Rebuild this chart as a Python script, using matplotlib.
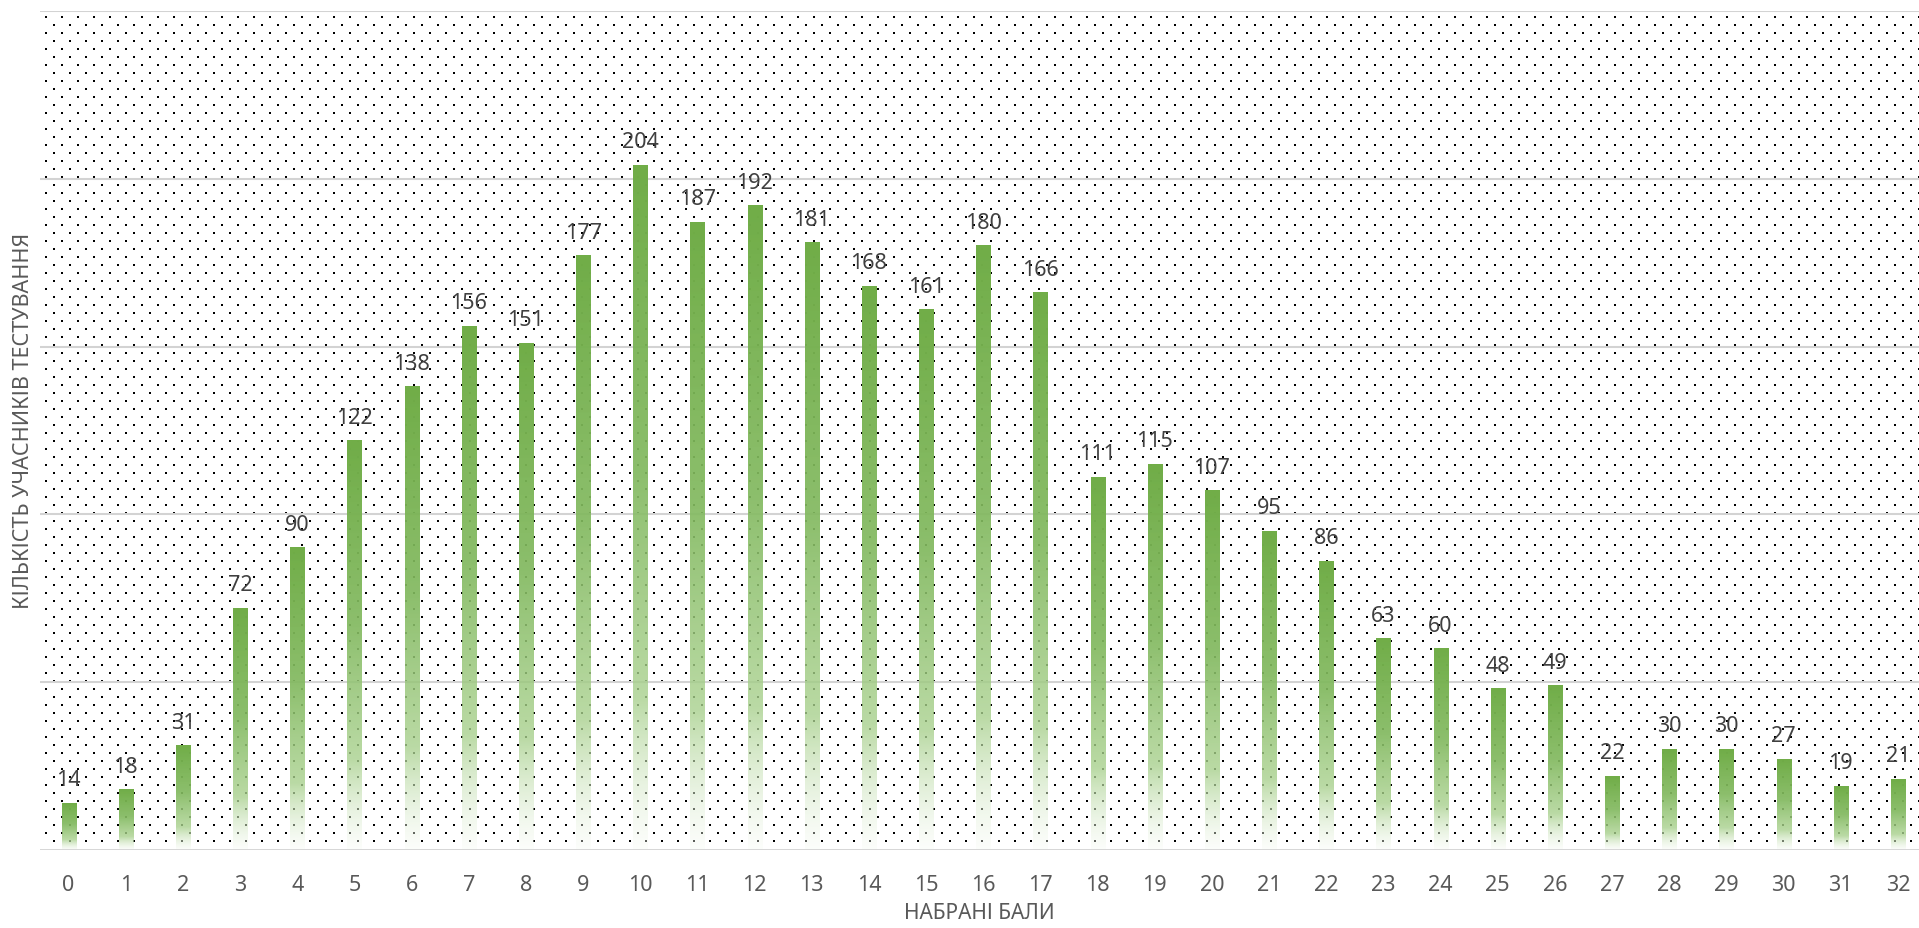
import numpy as np
import matplotlib
matplotlib.use("Agg")
import matplotlib.pyplot as plt
from matplotlib.colors import to_rgb

# scores 0..32 and number of participants
scores = list(range(33))
counts = [14, 18, 31, 72, 90, 122, 138, 156, 151, 177, 204, 187, 192, 181,
          168, 161, 180, 166, 111, 115, 107, 95, 86, 63, 60, 48, 49, 22,
          30, 30, 27, 19, 21]

x_label = "НАБРАНІ БАЛИ"
y_label = "КІЛЬКІСТЬ УЧАСНИКІВ ТЕСТУВАННЯ"

W, H, DPI = 1919, 929, 100
AX_L, AX_R, AX_T, AX_B = 40, 1919, 12, 851   # axes box in pixels

plt.rcParams['font.family'] = ['Noto Sans', 'DejaVu Sans']


def dot_pattern(w, h):
    # staggered black dots, 16 px apart in a row, rows 8 px apart
    img = np.zeros((h, w, 4))
    for r, y in enumerate(range(5, h - 4, 8)):
        off = 5 if r % 2 == 0 else 13
        for x in range(off, w, 16):
            img[y:y + 2, x:x + 2] = (0, 0, 0, 1)
    return img


def bar_gradient(n=256):
    # top of bar at row 0, bottom at row n-1
    t = np.linspace(0, 1, n)
    stops = np.array([0.0, 0.45, 0.78, 1.0])
    cols = np.array([to_rgb('#70ad47'), to_rgb('#82b95f'),
                     to_rgb('#a9d18e'), to_rgb('#f7fbf4')])
    alphas = np.array([1.0, 0.92, 0.8, 0.35])
    img = np.zeros((n, 1, 4))
    for k in range(3):
        img[:, 0, k] = np.interp(t, stops, cols[:, k])
    img[:, 0, 3] = np.interp(t, stops, alphas)
    return img


fig = plt.figure(figsize=(W / DPI, H / DPI), dpi=DPI)
ax = fig.add_axes([AX_L / W, 1 - AX_B / H, (AX_R - AX_L) / W, (AX_B - AX_T) / H])

# background dots
ax.imshow(dot_pattern(AX_R - AX_L, AX_B - AX_T), extent=(0, 1, 0, 1),
          transform=ax.transAxes, aspect='auto', interpolation='none', zorder=0)

for v in range(50, 251, 50):
    ax.axhline(v, color='#d3d3d3', lw=1.5, zorder=1)
ax.axhline(0, color='#d3d3d3', lw=2, zorder=4)

bw = 0.245
grad = bar_gradient()
for s, c in zip(scores, counts):
    ax.imshow(grad, extent=(s - bw / 2, s + bw / 2, 0, c), aspect='auto',
              interpolation='bilinear', zorder=3)
    ax.annotate(str(c), (s, c), xytext=(0, 13), textcoords='offset points',
                ha='center', va='baseline', fontsize=15.5, color='#404040',
                zorder=5, clip_on=False)

ax.set_xlim(-0.5, 32.37)
ax.set_ylim(0, 250)

for sp in ax.spines.values():
    sp.set_visible(False)
ax.set_xticks(scores)
ax.set_xticklabels([str(s) for s in scores])
ax.set_yticks([])
ax.tick_params(axis='x', length=0, pad=17, labelsize=15.5, labelcolor='#595959')

ax.set_xlabel(x_label, fontsize=15, color='#595959', labelpad=5)
ax.set_ylabel(y_label, fontsize=15.5, color='#595959', va='center')
ax.yaxis.set_label_coords(-16.5 / (AX_R - AX_L), (AX_B - 421) / (AX_B - AX_T))

fig.savefig('out.png', dpi=DPI)
